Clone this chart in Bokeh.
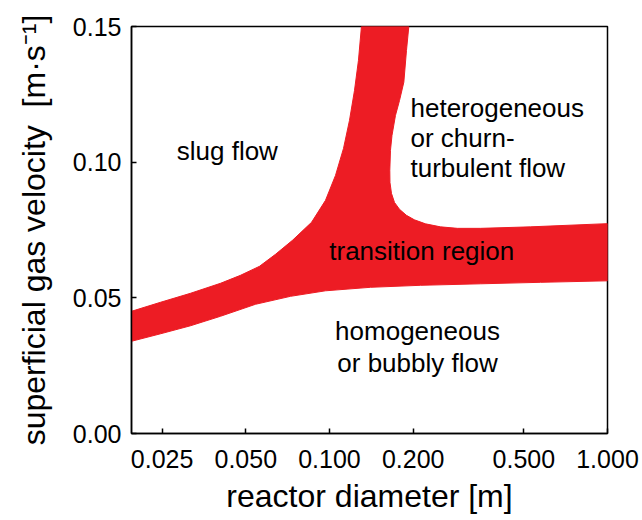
from bokeh.plotting import figure
from bokeh.models import FixedTicker, Label, Range1d
from bokeh.embed import file_html
from bokeh.resources import INLINE

# Flow-regime map: reactor diameter [m] vs superficial gas velocity [m/s].
# Lower edge of the transition band, left to right.
lower_d = [0.0194, 0.02467, 0.03162, 0.04053, 0.05418, 0.07239, 0.09674,
           0.1404, 0.2125, 0.3493, 0.5741, 1.0]
lower_v = [0.03399, 0.03675, 0.03970, 0.04320, 0.04762, 0.05056, 0.05259,
           0.05388, 0.05462, 0.05517, 0.05572, 0.05627]

# Upper edge on the heterogeneous side, from the right end back up to the top.
right_d = [1.0, 0.5284, 0.3493, 0.2886, 0.2507, 0.2215, 0.2021, 0.1892,
           0.1786, 0.1713, 0.1671, 0.1650, 0.1648, 0.1657, 0.1678, 0.1727,
           0.1786, 0.1851, 0.1892, 0.1929]
right_v = [0.07734, 0.07616, 0.07561, 0.07561, 0.07616, 0.07727, 0.07874,
           0.08040, 0.08261, 0.08518, 0.08850, 0.09255, 0.09697, 0.10433,
           0.10986, 0.11722, 0.12275, 0.12949, 0.14116, 0.15]

# Edge on the slug-flow side, from the top down to the left end.
left_d = [0.1303, 0.1271, 0.1230, 0.1180, 0.1123, 0.1051, 0.09674, 0.08617,
          0.07358, 0.06393, 0.05599, 0.04784, 0.04053, 0.03162, 0.02467,
          0.0194]
left_v = [0.15, 0.13748, 0.12643, 0.11538, 0.10507, 0.09513, 0.08592,
          0.07782, 0.07119, 0.06603, 0.06161, 0.05830, 0.05535, 0.05167,
          0.04836, 0.04504]

x_ticks = [0.025, 0.05, 0.1, 0.2, 0.5, 1.0]
x_tick_labels = ["0.025", "0.050", "0.100", "0.200", "0.500", "1.000"]
y_ticks = [0.0, 0.05, 0.10, 0.15]
y_tick_labels = ["0.00", "0.05", "0.10", "0.15"]

FONT = "Liberation Sans"
RED = "#ED1C24"

p = figure(width=642, height=520, x_axis_type="log",
           x_range=Range1d(0.0194, 1.0), y_range=Range1d(0.0, 0.15),
           output_backend="svg", toolbar_location=None,
           min_border_left=131, min_border_right=35,
           min_border_top=26, min_border_bottom=87)
p.background_fill_color = "white"
p.border_fill_color = "white"
p.outline_line_color = "black"
p.outline_line_width = 1.5
p.grid.visible = False

band_x = lower_d + right_d + left_d
band_y = lower_v + right_v + left_v
p.patch(band_x, band_y, fill_color=RED, line_color=RED, line_width=1)

# axes
p.xaxis.ticker = FixedTicker(ticks=x_ticks, minor_ticks=[])
p.xaxis.major_label_overrides = dict(zip(x_ticks, x_tick_labels))
p.yaxis.ticker = FixedTicker(ticks=y_ticks, minor_ticks=[])
p.yaxis.major_label_overrides = dict(zip(y_ticks, y_tick_labels))

for ax in (p.xaxis[0], p.yaxis[0]):
    ax.axis_line_color = "black"
    ax.axis_line_width = 1.5
    ax.major_tick_line_color = "black"
    ax.major_tick_line_width = 1.5
    ax.major_tick_in = 5
    ax.major_tick_out = 0
    ax.minor_tick_line_color = None
    ax.major_label_text_font = FONT
    ax.major_label_text_font_size = "25px"
    ax.major_label_text_color = "black"
    ax.axis_label_text_font = FONT
    ax.axis_label_text_font_size = "32px"
    ax.axis_label_text_font_style = "normal"
    ax.axis_label_text_color = "black"

p.xaxis.axis_label = "reactor diameter [m]"
p.xaxis.major_label_standoff = 16
p.xaxis.axis_label_standoff = 7
p.yaxis.axis_label = "superficial gas velocity \u00a0[m\u00b7s\u207b\u00b9]"
p.yaxis.major_label_standoff = 10
p.yaxis.axis_label_standoff = 18

# regime names
def add_text(x, y, text, align="center"):
    p.add_layout(Label(x=x, y=y, text=text, text_font=FONT,
                       text_font_size="26px", text_color="black",
                       text_align=align, text_baseline="alphabetic"))

add_text(0.0429, 0.1042, "slug flow")
add_text(0.1956, 0.1199, "heterogeneous", "left")
add_text(0.1956, 0.10885, "or churn-", "left")
add_text(0.1956, 0.0978, "turbulent flow", "left")
add_text(0.2147, 0.0674, "transition region")
add_text(0.2073, 0.0376, "homogeneous")
add_text(0.2073, 0.0258, "or bubbly flow")

open("out.html", "w").write(file_html(p, INLINE))
